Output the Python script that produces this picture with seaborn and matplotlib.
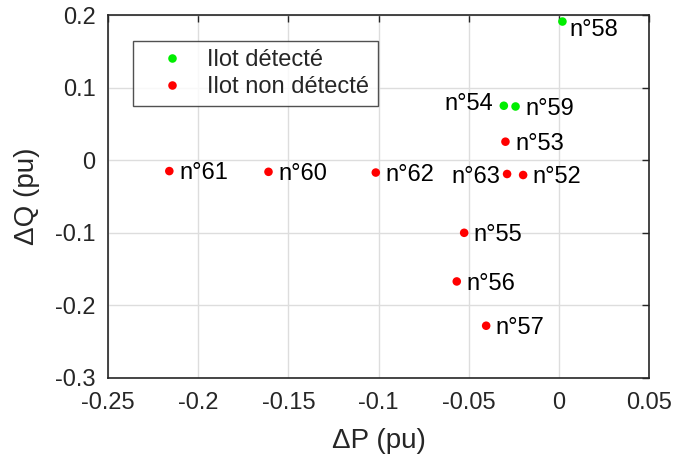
import matplotlib
matplotlib.use("Agg")
import matplotlib.pyplot as plt
import seaborn as sns
import pandas as pd

# ---- data ----
cases = ["n°58", "n°54", "n°59", "n°53", "n°63", "n°52", "n°55", "n°56", "n°57", "n°61", "n°60", "n°62"]
dP = [0.002, -0.0305, -0.024, -0.0296, -0.0287, -0.0198, -0.0525, -0.0566, -0.0403, -0.216, -0.161, -0.1015]
dQ = [0.191, 0.075, 0.074, 0.0255, -0.019, -0.0204, -0.100, -0.167, -0.228, -0.015, -0.016, -0.017]
status = ["Ilot détecté", "Ilot détecté", "Ilot détecté",
          "Ilot non détecté", "Ilot non détecté", "Ilot non détecté", "Ilot non détecté",
          "Ilot non détecté", "Ilot non détecté", "Ilot non détecté", "Ilot non détecté",
          "Ilot non détecté"]
status_order = ["Ilot détecté", "Ilot non détecté"]
xticks = [-0.25, -0.2, -0.15, -0.1, -0.05, 0, 0.05]
yticks = [-0.3, -0.2, -0.1, 0, 0.1, 0.2]

df = pd.DataFrame({"dP": dP, "dQ": dQ, "status": status, "case": cases})

# ---- style ----
sns.set_style("white")
plt.rcParams["font.family"] = ["Liberation Sans", "DejaVu Sans"]
plt.rcParams["axes.unicode_minus"] = False

fig = plt.figure(figsize=(6.73, 4.59), dpi=100)
ax = fig.add_axes([108 / 673, 1 - 378 / 459, 541 / 673, 363 / 459])

palette = {"Ilot détecté": "#00ee00", "Ilot non détecté": "#ff0000"}
sns.scatterplot(data=df, x="dP", y="dQ", hue="status", hue_order=status_order,
                palette=palette, s=38, edgecolor="none", linewidth=0, ax=ax, zorder=3)

# label placement (offsets in points)
label_style = {"n°58": (5, -6, "left"), "n°54": (-8, 1, "right"), "n°63": (-5, -2, "right")}
for c, x, y in zip(cases, dP, dQ):
    dx, dy, ha = label_style.get(c, (7, -1.5, "left"))
    ax.annotate(c, (x, y), xytext=(dx, dy), textcoords="offset points",
                ha=ha, va="center", fontsize=17, color="black", zorder=4)

ax.set_xlim(-0.25, 0.05)
ax.set_ylim(-0.3, 0.2)
ax.set_xticks(xticks)
ax.set_yticks(yticks)
ax.set_xticklabels(["%g" % t for t in xticks])
ax.set_yticklabels(["%g" % t for t in yticks])
ax.tick_params(direction="in", length=5, width=1, top=True, right=True,
               labelsize=17, colors="#262626")
ax.tick_params(axis="x", pad=10)
ax.tick_params(axis="y", pad=9)
ax.grid(True, color="#dddddd", linewidth=1)
ax.set_axisbelow(True)
for sp in ax.spines.values():
    sp.set_color("#262626")
    sp.set_linewidth(1.2)

ax.set_xlabel("ΔP (pu)", fontsize=20, color="#262626", labelpad=10)
ax.set_ylabel("ΔQ (pu)", fontsize=20, color="#262626", labelpad=11)

handles, labels = ax.get_legend_handles_labels()
leg = ax.legend(handles, labels, loc="upper left", bbox_to_anchor=(0.046, 0.928),
                fontsize=17, frameon=True, fancybox=False, edgecolor="#262626",
                borderpad=0.34, labelspacing=0.22, handlelength=2.6, handletextpad=0.22,
                borderaxespad=0, markerscale=1.0)
leg.get_frame().set_linewidth(1.0)

fig.savefig("out.png", dpi=100)
